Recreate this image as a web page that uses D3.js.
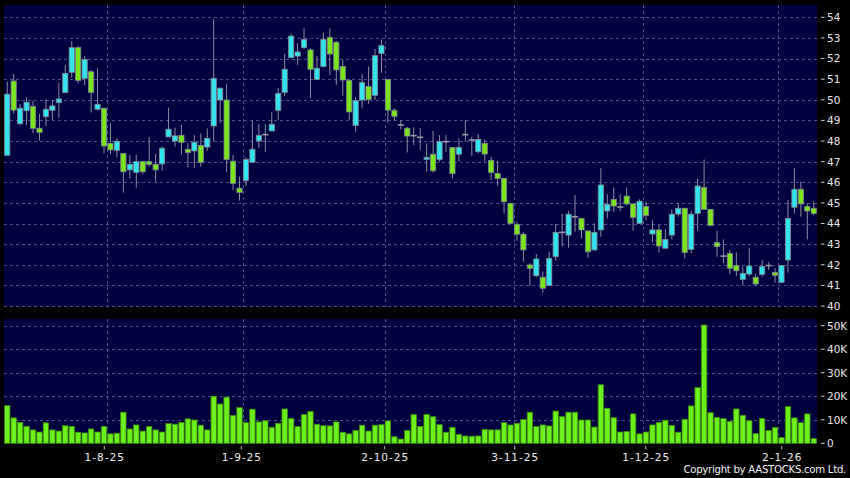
<!DOCTYPE html>
<html>
<head>
<meta charset="utf-8">
<script src="https://cdn.jsdelivr.net/npm/d3@7/dist/d3.min.js"></script>
<style>
  html, body { margin: 0; padding: 0; background: #000; }
  svg { display: block; }
  text { font-family: "DejaVu Sans", Verdana, sans-serif; }
</style>
</head>
<body>
<svg id="chart" width="850" height="478"></svg>
<script>
// ---- Data ----
const openP = [47.31,50.91,48.84,49.47,49.68,48.62,49.18,49.49,49.86,50.35,
  51.33,52.53,51.04,51.36,49.54,49.59,47.89,47.55,47.40,46.60,
  46.48,47.00,47.00,46.87,46.89,48.20,48.00,48.28,47.60,47.52,
  47.79,47.71,48.73,49.99,49.99,47.02,45.71,46.09,46.97,48.00,
  48.31,48.49,49.49,50.36,52.04,52.12,52.53,52.42,50.99,51.61,
  53.03,52.79,51.61,50.94,48.76,49.99,50.64,50.22,52.25,50.99,
  49.49,48.78,48.62,48.26,48.18,47.11,47.36,47.11,47.97,47.69,
  47.36,48.31,48.05,47.48,47.89,47.06,46.43,46.19,44.98,43.96,
  43.48,41.99,41.47,41.39,40.99,42.39,43.57,43.44,44.33,44.25,
  43.64,42.72,43.69,44.61,45.17,44.80,45.33,44.95,44.01,44.82,
  43.49,43.69,42.80,43.44,44.46,44.74,42.75,44.49,45.74,44.69,
  43.07,42.42,42.55,41.96,41.29,41.55,41.39,41.54,41.96,41.62,
  41.15,42.23,44.79,45.66,44.82,44.74];
const highP = [50.88,51.25,49.80,50.12,49.96,49.31,50.04,49.99,50.83,51.69,
  52.85,52.60,52.12,51.45,51.53,49.60,48.86,48.13,47.40,47.32,
  47.32,47.00,48.20,47.37,47.73,49.62,48.65,48.78,47.89,48.29,
  48.37,48.62,53.92,50.60,50.77,47.32,46.27,47.21,48.99,48.83,
  48.83,49.39,50.56,52.22,53.22,52.74,53.47,52.50,52.12,53.27,
  53.47,52.85,51.93,51.00,50.12,51.25,51.61,52.46,52.93,51.00,
  49.59,49.02,48.70,48.67,48.63,47.89,48.49,48.29,48.29,47.70,
  48.13,49.02,48.21,48.33,48.08,47.24,47.03,46.20,45.00,44.09,
  43.57,42.07,42.52,41.67,42.63,43.98,44.46,44.61,45.38,44.26,
  43.65,44.01,46.68,45.42,45.75,45.40,45.75,44.96,45.17,45.06,
  44.17,43.93,43.72,44.69,45.01,44.75,44.61,46.19,47.11,44.70,
  43.65,43.23,42.72,42.60,41.91,42.80,41.58,42.23,42.12,41.83,
  41.98,45.14,46.68,46.03,44.98,45.06];
const lowP = [47.31,49.34,48.79,48.78,48.37,48.02,48.73,49.02,49.12,50.35,
  51.07,50.80,50.72,49.38,49.50,47.40,47.37,47.21,45.50,46.19,
  45.74,46.40,46.76,46.03,46.56,48.18,47.73,47.36,46.72,46.68,
  46.76,47.53,47.97,48.86,46.51,45.63,45.11,45.82,46.97,47.65,
  47.48,48.49,49.02,50.18,52.01,51.69,52.45,50.10,50.96,51.57,
  51.20,50.72,50.20,49.02,48.45,49.59,49.80,49.99,51.32,48.89,
  48.99,48.57,47.44,47.81,47.57,46.51,46.47,47.00,47.48,46.19,
  47.00,47.97,47.29,47.40,47.00,46.11,45.84,44.49,43.98,43.17,
  42.15,40.99,41.39,40.65,40.99,42.20,42.88,42.83,43.60,43.28,
  42.34,42.68,43.36,44.25,44.57,44.60,44.87,43.65,43.98,44.17,
  43.09,42.60,42.80,43.23,44.33,42.31,42.55,43.65,44.66,43.91,
  42.39,42.07,41.55,41.45,41.02,41.45,40.97,41.42,41.75,41.13,
  41.10,41.62,44.49,44.33,43.23,44.41];
const closeP = [50.27,49.50,49.59,49.88,48.62,48.42,49.54,49.70,50.04,51.28,
  52.53,50.94,51.96,50.36,49.78,47.76,47.57,47.99,46.51,46.87,
  47.00,46.51,46.87,46.60,47.65,48.57,48.25,47.94,47.44,47.94,
  46.97,48.13,51.04,50.56,47.11,45.95,45.51,47.11,47.60,48.28,
  48.31,48.81,50.31,51.48,53.09,52.32,52.93,51.48,51.53,52.93,
  52.22,51.45,50.96,49.41,49.96,50.83,50.02,52.14,52.64,49.50,
  49.20,48.78,48.24,48.26,48.18,47.21,46.56,47.97,47.97,46.43,
  47.69,48.31,48.05,48.08,47.37,46.48,46.19,45.06,44.01,43.48,
  42.72,41.83,42.28,40.86,42.31,43.57,43.57,44.45,44.33,43.69,
  42.63,43.57,45.87,44.93,44.85,44.80,44.95,44.30,45.08,44.40,
  43.69,42.91,43.23,44.45,44.74,42.60,44.45,45.82,44.69,43.91,
  42.88,42.42,41.83,41.71,41.58,41.94,41.07,41.91,41.96,41.49,
  41.96,44.25,45.66,44.95,44.61,44.49];
const volumeK = [16.0,10.8,8.9,7.2,5.7,4.8,8.7,5.7,5.2,7.5,
  7.2,4.7,4.4,6.1,4.8,7.2,4.0,4.3,13.2,6.1,
  7.8,5.2,7.2,5.7,4.8,8.4,8.1,8.9,10.4,9.9,
  7.7,5.7,20.0,16.7,19.6,11.8,15.2,8.8,14.5,9.1,
  9.6,6.8,8.5,14.6,10.6,7.1,12.2,13.5,8.1,7.5,
  7.4,9.1,4.7,4.0,5.5,7.7,5.2,7.7,7.9,9.5,
  2.8,1.8,5.5,12.2,7.2,12.3,11.3,7.9,4.7,6.8,
  3.8,3.1,3.0,3.1,5.9,5.7,5.7,8.8,7.8,8.5,
  10.1,13.2,7.1,7.8,7.4,13.7,11.3,13.2,13.2,9.9,
  9.9,6.9,24.9,14.9,10.9,4.8,5.0,12.5,4.0,4.8,
  7.8,8.9,9.8,7.6,4.7,10.2,15.9,23.7,50.3,13.0,
  11.0,10.5,9.3,14.6,11.9,9.6,4.1,10.5,5.5,6.8,
  2.5,15.6,10.8,8.8,12.5,2.0];
const priceTicks = [40,41,42,43,44,45,46,47,48,49,50,51,52,53,54];
const volumeTicks = [0,10000,20000,30000,40000,50000];
const volumeTickLabels = ["0","10K","20K","30K","40K","50K"];
const dateLabels = ["1-8-25","1-9-25","2-10-25","3-11-25","1-12-25","2-1-26"];
const dateLabelIdx = [15.04,36.28,58.5,78.65,98.96,120.04];
const monthGridIdx = [15.5,36.5,58.5,78.5,98.5,119.5];

// ---- Layout ----
const svg = d3.select("#chart");
const L = 4, R = 817;
const mainTop = 5, mainBot = 307;
const volTop = 319, volBot = 444;
const n = closeP.length;
const candles = d3.range(n).map(i => ({i, o: openP[i], h: highP[i], l: lowP[i], c: closeP[i], v: volumeK[i]*1000}));

const x = d3.scaleLinear().domain([-0.5, n - 0.5]).range([L, R]);
const yP = d3.scaleLinear().domain([40, 54]).range([306, 17.3]);
const yV = d3.scaleLinear().domain([0, 50000]).range([443.3, 325.7]);

const BG = "#00003f", GRID = "#4e4e8e";
const CYAN = "#33e4ef", GREEN = "#7be41d", VOLG = "#6cf01c";

svg.append("rect").attr("width", 850).attr("height", 478).attr("fill", "#000");
svg.append("rect").attr("x", L).attr("y", mainTop).attr("width", R - L).attr("height", mainBot - mainTop).attr("fill", BG);
svg.append("rect").attr("x", L).attr("y", volTop).attr("width", R - L).attr("height", volBot - volTop).attr("fill", BG);

// grid lines
const grid = svg.append("g").attr("stroke", GRID).attr("stroke-width", 1).attr("stroke-dasharray", "3,3").attr("shape-rendering", "crispEdges");
grid.selectAll(".hp").data(priceTicks).join("line")
  .attr("x1", L).attr("x2", R).attr("y1", d => Math.round(yP(d)) + 0.5).attr("y2", d => Math.round(yP(d)) + 0.5);
grid.selectAll(".hv").data(volumeTicks.slice(1)).join("line")
  .attr("x1", L).attr("x2", R).attr("y1", d => Math.round(yV(d)) + 0.5).attr("y2", d => Math.round(yV(d)) + 0.5);
grid.selectAll(".vm").data(monthGridIdx).join("line")
  .attr("x1", d => Math.round(x(d)) + 0.5).attr("x2", d => Math.round(x(d)) + 0.5)
  .attr("y1", mainTop).attr("y2", mainBot);
grid.selectAll(".vv").data(monthGridIdx).join("line")
  .attr("x1", d => Math.round(x(d)) + 0.5).attr("x2", d => Math.round(x(d)) + 0.5)
  .attr("y1", volTop).attr("y2", volBot);

// candles
const bw = 5.2;
const cg = svg.append("g");
cg.selectAll(".wick").data(candles).join("line")
  .attr("x1", d => x(d.i)).attr("x2", d => x(d.i))
  .attr("y1", d => yP(d.h)).attr("y2", d => yP(d.l))
  .attr("stroke", "#8c8c9e").attr("stroke-width", 1);
cg.selectAll(".body").data(candles.filter(d => d.o !== d.c)).join("rect")
  .attr("x", d => x(d.i) - bw/2)
  .attr("y", d => yP(Math.max(d.o, d.c)))
  .attr("width", bw)
  .attr("height", d => Math.max(1, yP(Math.min(d.o, d.c)) - yP(Math.max(d.o, d.c))))
  .attr("fill", d => d.c > d.o ? CYAN : GREEN)
  .attr("stroke", "#7d8a90").attr("stroke-width", 0.8);
cg.selectAll(".doji").data(candles.filter(d => d.o === d.c)).join("line")
  .attr("x1", d => x(d.i) - bw/2 - 0.5).attr("x2", d => x(d.i) + bw/2 + 0.5)
  .attr("y1", d => yP(d.c)).attr("y2", d => yP(d.c))
  .attr("stroke", "#9a9aa8").attr("stroke-width", 1.6);

// volume bars
svg.append("g").selectAll("rect").data(candles).join("rect")
  .attr("x", d => x(d.i) - 2.7)
  .attr("y", d => yV(d.v))
  .attr("width", 5.4)
  .attr("height", d => yV(0) - yV(d.v))
  .attr("fill", VOLG).attr("stroke", "#3c8a0c").attr("stroke-width", 0.8);

// right axes
const ax = svg.append("g").attr("fill", "#e6e6e6").attr("font-size", "10.5px");
ax.selectAll(".pt").data(priceTicks).join("line")
  .attr("x1", 821).attr("x2", 824.5).attr("y1", d => yP(d)).attr("y2", d => yP(d))
  .attr("stroke", "#cfcfcf").attr("stroke-width", 1);
ax.selectAll(".pl").data(priceTicks).join("text")
  .attr("x", 827).attr("y", d => yP(d) + 3.9).text(d => d);
ax.selectAll(".vt").data(volumeTicks).join("line")
  .attr("x1", 821).attr("x2", 824.5).attr("y1", d => yV(d)).attr("y2", d => yV(d))
  .attr("stroke", "#cfcfcf").attr("stroke-width", 1);
ax.selectAll(".vl").data(volumeTicks).join("text")
  .attr("x", 827).attr("y", d => yV(d) + 3.9).text((d, k) => volumeTickLabels[k]);

// bottom date axis
const bx = svg.append("g");
bx.selectAll("line").data(dateLabelIdx).join("line")
  .attr("x1", d => x(d)).attr("x2", d => x(d)).attr("y1", 446).attr("y2", 449.5)
  .attr("stroke", "#bdbdbd").attr("stroke-width", 1);
bx.selectAll("text").data(dateLabels).join("text")
  .attr("x", (d, k) => x(dateLabelIdx[k]) + 0.5).attr("y", 461)
  .attr("text-anchor", "middle").attr("fill", "#f0f0f0")
  .attr("font-size", "10.5px").attr("letter-spacing", "1px").text(d => d);

// copyright
svg.append("text").attr("x", 846).attr("y", 472.5).attr("text-anchor", "end")
  .attr("fill", "#f0f0f0").attr("font-size", "10.2px").attr("letter-spacing", "-0.3px")
  .text("Copyright by AASTOCKS.com Ltd.");
</script>
</body>
</html>
